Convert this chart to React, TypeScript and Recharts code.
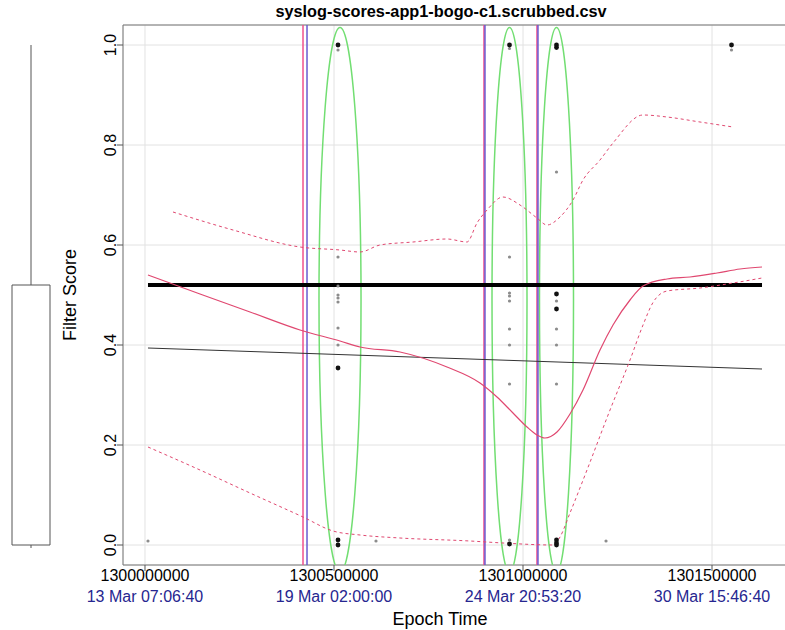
import React from "react";
import {
  ComposedChart,
  Line,
  Scatter,
  XAxis,
  YAxis,
  CartesianGrid,
  ReferenceLine,
  ReferenceArea,
} from "recharts";

const TITLE = "syslog-scores-app1-bogo-c1.scrubbed.csv";

const xDomain = [1299941800, 1301698400];
const yDomain = [-0.04, 1.04];
const xTicks = [1300000000, 1300500000, 1301000000, 1301500000];
const xDateLabels = ["13 Mar 07:06:40", "19 Mar 02:00:00", "24 Mar 20:53:20", "30 Mar 15:46:40"];
const yTicks = [0, 0.2, 0.4, 0.6, 0.8, 1.0];

// smoothed score (solid red)
const fitT = [
  1300007900, 1300145500, 1300277800, 1300410100, 1300515900, 1300568800, 1300674600,
  1300798900, 1300886200, 1300931200, 1300973500, 1301010600, 1301037000, 1301058200,
  1301089900, 1301124300, 1301158700, 1301203700, 1301238100, 1301283100, 1301317500,
  1301381000, 1301441800, 1301513200, 1301574100, 1301632300,
];
const fitV = [
  0.54, 0.502, 0.466, 0.43, 0.408, 0.396, 0.386, 0.356, 0.324, 0.296, 0.264, 0.236, 0.22,
  0.214, 0.226, 0.262, 0.31, 0.39, 0.44, 0.49, 0.518, 0.532, 0.536, 0.544, 0.552, 0.556,
];

// upper band (dashed red)
const upperT = [
  1300074100, 1300232800, 1300410100, 1300515900, 1300568800, 1300621700, 1300709000,
  1300798900, 1300851900, 1300878300, 1300904800, 1300947100, 1300992100, 1301037000,
  1301063500, 1301097900, 1301132300, 1301158700, 1301203700, 1301238100, 1301317500,
  1301381000, 1301468300, 1301555600,
];
const upperV = [
  0.666, 0.63, 0.596, 0.59, 0.586, 0.6, 0.606, 0.612, 0.606, 0.644, 0.67, 0.696, 0.68,
  0.654, 0.64, 0.656, 0.69, 0.73, 0.77, 0.804, 0.86, 0.856, 0.846, 0.836,
];

// lower band (dashed red)
const lowerT = [
  1300007900, 1300145500, 1300277800, 1300418000, 1300497400, 1300568800, 1300674600,
  1300859800, 1300947100, 1301079400, 1301097900, 1301124300, 1301169300, 1301230200,
  1301283100, 1301317500, 1301343900, 1301381000, 1301468300, 1301555600, 1301632300,
];
const lowerV = [
  0.196, 0.15, 0.104, 0.056, 0.028, 0.02, 0.014, 0.008, 0.004, 0.0, 0.016, 0.064, 0.15,
  0.27, 0.37, 0.44, 0.485, 0.508, 0.514, 0.524, 0.534,
];

// linear trend + overall mean
const trendT = [1300007900, 1301632300];
const trendV = [0.394, 0.352];
const meanV = [0.52, 0.52];

// observed scores, grouped by timestamp
const colT = [1300007900, 1300510600, 1300611100, 1300964300, 1301088600, 1301219600, 1301551600];
const grayByCol = [
  [0.008],
  [0.99, 0.576, 0.518, 0.5, 0.494, 0.486, 0.434, 0.4],
  [0.008],
  [0.993, 0.576, 0.504, 0.498, 0.488, 0.432, 0.4, 0.322, 0.01],
  [0.746, 0.488, 0.432, 0.4, 0.322],
  [0.008],
  [0.99],
];
const blackByCol = [
  [],
  [1.0, 0.354, 0.01, 0.0],
  [],
  [1.0, 0.002],
  [1.0, 0.995, 0.502, 0.472, 0.01, 0.004, 0.0],
  [],
  [1.0],
];

// alert markers
const alertPinkT = [1300418000, 1300896800, 1301037000];
const alertBlueT = [1300428600, 1300899400, 1301039600];

// highlighted clusters (ellipses)
const clusterT = [1300515900, 1300964300, 1301088600];
const clusterHalfW = [55600, 46300, 45000];
const clusterLow = -0.055;
const clusterHigh = 1.035;

// boxplot of all scores
const boxMin = 0;
const boxQ1 = 0;
const boxQ3 = 0.52;
const boxMax = 1.0;

const zip = (ts: number[], vs: number[]) => ts.map((t, i) => ({ t, v: vs[i] }));
const fitData = zip(fitT, fitV);
const upperData = zip(upperT, upperV);
const lowerData = zip(lowerT, lowerV);
const trendData = zip(trendT, trendV);
const meanData = zip(trendT, meanV);
const grayPts = colT.flatMap((t, i) => grayByCol[i].map((v) => ({ t, v })));
const blackPts = colT.flatMap((t, i) => blackByCol[i].map((v) => ({ t, v })));

const FONT = '"Liberation Sans", Arial, sans-serif';
const RED = "#e04870";

const YTick = (p: any) => {
  const bx = 116;
  return (
    <text
      x={bx}
      y={p.y}
      transform={`rotate(-90, ${bx}, ${p.y})`}
      textAnchor="middle"
      fontSize={16}
      fontFamily={FONT}
      fill="#000"
    >
      {Number(p.payload.value).toFixed(1)}
    </text>
  );
};

const XTick = (p: any) => {
  const i = xTicks.indexOf(p.payload.value);
  return (
    <g fontFamily={FONT} fontSize={16} textAnchor="middle">
      <text x={p.x} y={581} fill="#000">
        {String(p.payload.value)}
      </text>
      <text x={p.x} y={602} fill="#262690">
        {xDateLabels[i]}
      </text>
    </g>
  );
};

const Ellipse = (p: any) => (
  <ellipse
    cx={p.x + p.width / 2}
    cy={p.y + p.height / 2}
    rx={Math.abs(p.width) / 2}
    ry={Math.abs(p.height) / 2}
    fill="none"
    stroke="#72de72"
    strokeWidth={1.5}
    clipPath={p.clipPath}
  />
);

const Dot = (color: string, r: number) => (p: any) => (
  <circle cx={p.cx} cy={p.cy} r={r} fill={color} />
);

export default function App() {
  return (
    <div
      style={{
        position: "absolute",
        left: 0,
        top: 0,
        width: 785,
        height: 630,
        overflow: "hidden",
        background: "#fff",
      }}
    >
      {/* boxplot panel */}
      <div style={{ position: "absolute", left: 0, top: 0 }}>
        <ComposedChart width={60} height={630} margin={{ top: 25, right: 10, bottom: 65, left: 12 }} data={[{ x: 0.5, y: 0.5 }]}>
          <XAxis type="number" dataKey="x" domain={[0, 1]} hide />
          <YAxis type="number" dataKey="y" domain={yDomain} allowDataOverflow hide />
          <ReferenceLine
            segment={[{ x: 0.5, y: boxQ3 }, { x: 0.5, y: boxMax }]}
            stroke="#555"
            ifOverflow="visible"
          />
          <ReferenceArea x1={0} x2={1} y1={boxQ1} y2={boxQ3} fill="#fff" fillOpacity={1} stroke="#555" ifOverflow="visible" />
          <ReferenceLine
            segment={[{ x: 0.5, y: boxMin }, { x: 0.5, y: boxMin - 0.006 }]}
            stroke="#555"
            ifOverflow="visible"
          />
        </ComposedChart>
      </div>

      {/* main panel */}
      <div style={{ position: "absolute", left: 0, top: 0 }}>
        <ComposedChart width={800} height={630} margin={{ top: 25, right: 13, bottom: 0, left: 83 }}>
          <CartesianGrid stroke="#e2e2e2" />
          <XAxis
            type="number"
            dataKey="t"
            domain={xDomain}
            allowDataOverflow
            ticks={xTicks}
            height={65}
            axisLine={false}
            tickLine={{ stroke: "#555" }}
            tickSize={6}
            tick={<XTick />}
            interval={0}
          />
          <YAxis
            type="number"
            dataKey="v"
            domain={yDomain}
            allowDataOverflow
            ticks={yTicks}
            width={40}
            axisLine={false}
            tickLine={{ stroke: "#555" }}
            tickSize={6}
            tick={<YTick />}
            interval={0}
          />
          <ReferenceArea
            x1={xDomain[0]}
            x2={xDomain[1]}
            y1={yDomain[0]}
            y2={yDomain[1]}
            fill="none"
            stroke="#777"
            ifOverflow="visible"
          />
          <Scatter data={grayPts} dataKey="v" shape={Dot("#8c8c8c", 1.6)} isAnimationActive={false} />
          <Scatter data={blackPts} dataKey="v" shape={Dot("#111", 2.4)} isAnimationActive={false} />
          {alertPinkT.map((t) => (
            <ReferenceLine key={"p" + t} x={t} stroke="#f0508c" strokeWidth={1.5} />
          ))}
          {alertBlueT.map((t) => (
            <ReferenceLine key={"b" + t} x={t} stroke="#6a5ad0" strokeWidth={1.5} />
          ))}
          {clusterT.map((t, i) => (
            <ReferenceArea
              key={"c" + t}
              x1={t - clusterHalfW[i]}
              x2={t + clusterHalfW[i]}
              y1={clusterLow}
              y2={clusterHigh}
              ifOverflow="hidden"
              shape={Ellipse}
            />
          ))}
          <Line data={meanData} dataKey="v" stroke="#000" strokeWidth={4} dot={false} isAnimationActive={false} />
          <Line data={trendData} dataKey="v" stroke="#333" strokeWidth={1} dot={false} isAnimationActive={false} />
          <Line data={upperData} dataKey="v" type="monotone" stroke={RED} strokeWidth={1} strokeDasharray="3 3" dot={false} isAnimationActive={false} />
          <Line data={lowerData} dataKey="v" type="monotone" stroke={RED} strokeWidth={1} strokeDasharray="3 3" dot={false} isAnimationActive={false} />
          <Line data={fitData} dataKey="v" type="monotone" stroke={RED} strokeWidth={1.2} dot={false} isAnimationActive={false} />
        </ComposedChart>
      </div>

      {/* titles */}
      <svg
        width={785}
        height={630}
        style={{ position: "absolute", left: 0, top: 0, pointerEvents: "none" }}
        fontFamily={FONT}
      >
        <text x={441} y={17} textAnchor="middle" fontSize={16.3} fontWeight="bold" fill="#000">
          {TITLE}
        </text>
        <text x={440} y={625} textAnchor="middle" fontSize={18} fill="#000">
          Epoch Time
        </text>
        <text x={76} y={295} transform="rotate(-90, 76, 295)" textAnchor="middle" fontSize={18} fill="#000">
          Filter Score
        </text>
      </svg>
    </div>
  );
}
